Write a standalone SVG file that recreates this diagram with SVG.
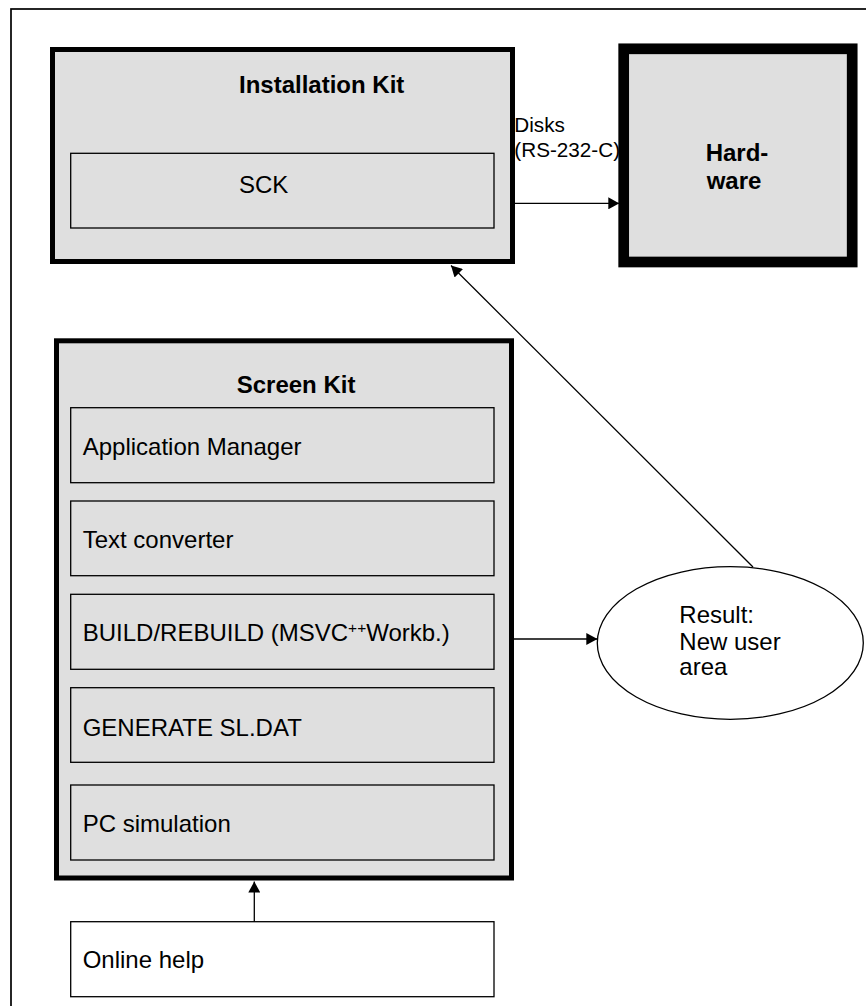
<svg xmlns="http://www.w3.org/2000/svg" width="866" height="1006" viewBox="0 0 866 1006">
  <style>
    text { font-family: "Liberation Sans", Arial, sans-serif; font-size: 24px; fill: #000; }
    .bold { font-weight: bold; }
    .small { font-size: 20.7px; }
    .kit { fill: #dfdfdf; stroke: #000; stroke-width: 5; }
    .hw { fill: #dfdfdf; stroke: #000; stroke-width: 10.7; }
    .part { fill: #dfdfdf; stroke: #000; stroke-width: 1.3; }
    .plain { fill: #fff; stroke: #000; stroke-width: 1.3; }
    .conn { fill: none; stroke: #000; stroke-width: 1.3; marker-end: url(#arrow); }
  </style>
  <defs>
    <marker id="arrow" viewBox="0 0 11 12" refX="11" refY="6" markerUnits="userSpaceOnUse" markerWidth="11" markerHeight="12" orient="auto">
      <path d="M0,0 L11,6 L0,12 z" fill="#000"/>
    </marker>
  </defs>

  <rect width="866" height="1006" fill="#fff"/>
  <!-- page frame, open to the right and bottom -->
  <rect x="11" y="9" width="880" height="1020" fill="none" stroke="#000" stroke-width="1.7"/>

  <g id="installation-kit">
    <rect class="kit" x="52.5" y="49.5" width="460" height="212"/>
    <text class="bold" x="239" y="92.7">Installation Kit</text>
  </g>
  <g id="sck">
    <rect class="part" x="70.7" y="153.3" width="423.3" height="74.7"/>
    <text x="239" y="192.7">SCK</text>
  </g>

  <g id="hardware">
    <rect class="hw" x="623.7" y="48.8" width="228.5" height="213.2"/>
    <text class="bold" x="705.7" y="161">Hard-</text>
    <text class="bold" x="706.7" y="189.3">ware</text>
  </g>

  <g id="screen-kit">
    <rect class="kit" x="56.5" y="340.8" width="455" height="537.2"/>
    <text class="bold" x="236.7" y="392.7">Screen Kit</text>
  </g>
  <g id="application-manager">
    <rect class="part" x="70.7" y="407.7" width="423.3" height="75"/>
    <text x="82.7" y="455">Application Manager</text>
  </g>
  <g id="text-converter">
    <rect class="part" x="70.7" y="501" width="423.3" height="74.7"/>
    <text x="82.7" y="548">Text converter</text>
  </g>
  <g id="build-rebuild">
    <rect class="part" x="70.7" y="594.3" width="423.3" height="75"/>
    <text x="82.7" y="641">BUILD/REBUILD (MSVC<tspan font-size="15.5" dy="-8">++</tspan><tspan dy="8">Workb.)</tspan></text>
  </g>
  <g id="generate-sl-dat">
    <rect class="part" x="70.7" y="687.7" width="423.3" height="74.6"/>
    <text x="82.7" y="736">GENERATE SL.DAT</text>
  </g>
  <g id="pc-simulation">
    <rect class="part" x="70.7" y="785" width="423.3" height="75"/>
    <text x="82.7" y="831.7">PC simulation</text>
  </g>

  <g id="online-help">
    <rect class="plain" x="70.7" y="921.7" width="423.3" height="75"/>
    <text x="82.7" y="968.3">Online help</text>
  </g>

  <g id="result">
    <ellipse class="plain" cx="730.3" cy="643" rx="133" ry="76.3"/>
    <text x="679.3" y="623.3">Result:</text>
    <text x="679.3" y="650">New user</text>
    <text x="679.3" y="675">area</text>
  </g>

  <g id="connectors">
    <line class="conn" x1="515" y1="203.3" x2="619.3" y2="203.3"/>
    <text class="small" x="514.3" y="131.7">Disks</text>
    <text class="small" x="514.3" y="156.7">(RS-232-C)</text>
    <line class="conn" x1="514" y1="639" x2="597.3" y2="639"/>
    <line class="conn" x1="753" y1="567" x2="451" y2="265.5"/>
    <line class="conn" x1="254.3" y1="921.7" x2="254.3" y2="881.5"/>
  </g>
</svg>
